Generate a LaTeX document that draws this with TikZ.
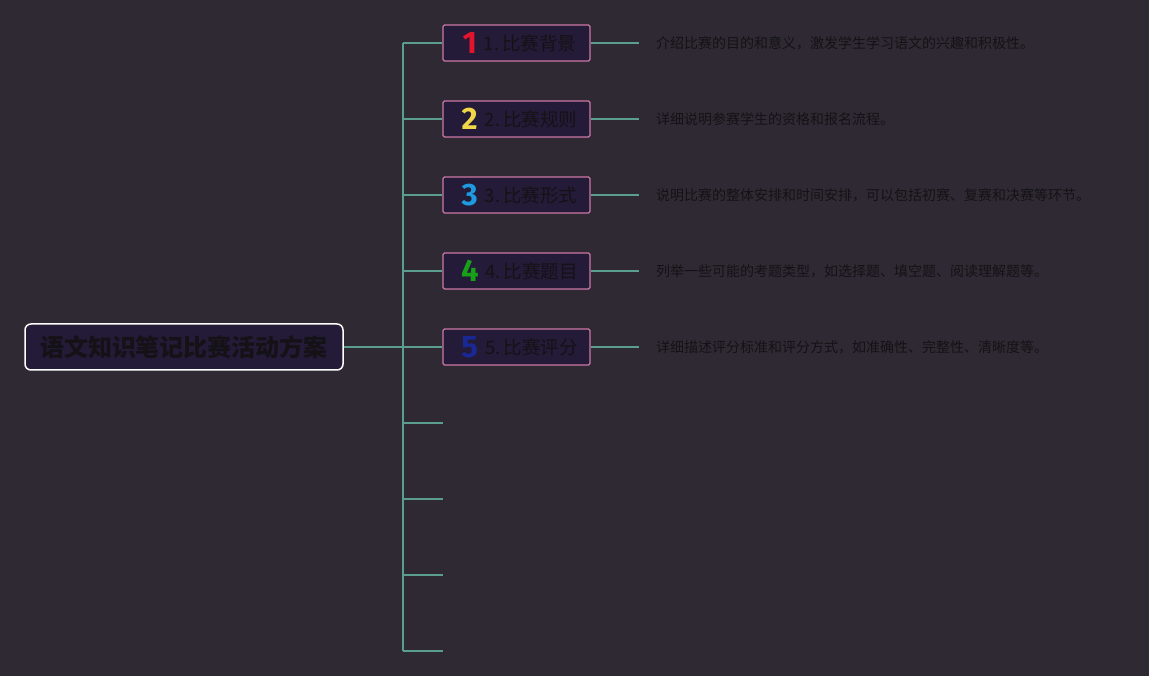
\documentclass[tikz,border=0pt]{standalone}
\usepackage{fontspec}
\newfontfamily\cjk{Noto Sans CJK SC}
\newfontfamily\badgefont{Fira Sans}
\usetikzlibrary{positioning}
\definecolor{bgcol}{RGB}{46,41,51}
\definecolor{boxfill}{RGB}{35,27,56}
\definecolor{inkcol}{RGB}{20,18,22}
\definecolor{pinkcol}{RGB}{206,120,166}
\definecolor{linkcol}{RGB}{90,158,142}
\definecolor{badgeA}{RGB}{228,20,45}
\definecolor{badgeB}{RGB}{240,214,72}
\definecolor{badgeC}{RGB}{30,155,224}
\definecolor{badgeD}{RGB}{24,160,24}
\definecolor{badgeE}{RGB}{26,40,150}
\begin{document}
\begin{tikzpicture}[x=1pt,y=-1pt,
  rootbox/.style={draw=white,line width=1.5pt,rounded corners=6pt,fill=boxfill,minimum width=318pt,minimum height=46pt,text=inkcol,font=\cjk\bfseries\fontsize{24}{24}\selectfont},
  topicbox/.style={draw=pinkcol,line width=1.2pt,rounded corners=1.5pt,fill=boxfill,minimum width=147pt,minimum height=36pt,inner sep=0pt,text=inkcol,font=\cjk\fontsize{18.5}{18.5}\selectfont},
  desc/.style={anchor=west,inner sep=0pt,text=inkcol,font=\cjk\fontsize{14}{14}\selectfont},
  link/.style={draw=linkcol,line width=1.5pt}]
\fill[bgcol] (0,0) rectangle (1149,676);
\node[rootbox] (root) at (184,347) {语文知识笔记比赛活动方案};
\coordinate (top) at (403,43);
\coordinate (bottom) at (403,651);
\coordinate (trunk) at (403,347);
\draw[link] (top) -- (bottom);
\draw[link] (root.east) -- (trunk);
\foreach \i/\c/\t/\d in {1/badgeA/比赛背景/介绍比赛的目的和意义，激发学生学习语文的兴趣和积极性。,
  2/badgeB/比赛规则/详细说明参赛学生的资格和报名流程。,
  3/badgeC/比赛形式/说明比赛的整体安排和时间安排，可以包括初赛、复赛和决赛等环节。,
  4/badgeD/比赛题目/列举一些可能的考题类型，如选择题、填空题、阅读理解题等。,
  5/badgeE/比赛评分/详细描述评分标准和评分方式，如准确性、完整性、清晰度等。} {
  \node[topicbox] (t\i) at (516.5,{43+76*(\i-1)}) {\hspace*{6pt}\raisebox{-3pt}{\textcolor{\c}{\badgefont\bfseries\fontsize{31}{31}\selectfont\i}}\hspace{7pt}\i.\,\t};
  \coordinate (s\i) at (403,{43+76*(\i-1)});
  \coordinate (e\i) at (639,{43+76*(\i-1)});
  \node[desc] (d\i) at (656,{43+76*(\i-1)}) {\d};
  \draw[link] (s\i) -- (t\i.west);
  \draw[link] (t\i.east) -- (e\i);
}
% empty branches
\foreach \j in {6,...,9} {
  \coordinate (s\j) at (403,{43+76*(\j-1)});
  \coordinate (f\j) at (443,{43+76*(\j-1)});
  \draw[link] (s\j) -- (f\j);
}
\end{tikzpicture}
\end{document}
